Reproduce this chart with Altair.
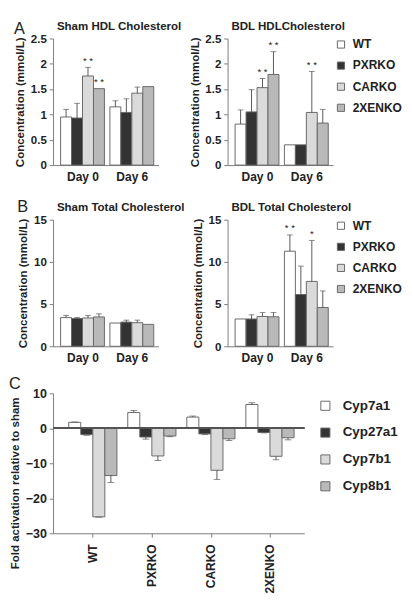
import altair as alt
import pandas as pd

FONT = "Liberation Sans"
TXT = "#222222"
AX = "#7a7a7a"

strains = ["WT", "PXRKO", "CARKO", "2XENKO"]
days = ["Day 0", "Day 6"]
genes = ["Cyp7a1", "Cyp27a1", "Cyp7b1", "Cyp8b1"]
fills = ["#ffffff", "#333333", "#dadada", "#b9b9b9"]

# Panel A (mmol/L): Day 0 (WT, PXRKO, CARKO, 2XENKO), then Day 6
sham_hdl = [0.95, 0.93, 1.76, 1.51, 1.15, 1.04, 1.42, 1.55]
sham_hdl_err = [1.10, 1.22, 1.93, None, 1.27, 1.31, 1.54, None]
sham_hdl_sig = ["", "", "* *", "* *", "", "", "", ""]

bdl_hdl = [0.81, 1.05, 1.53, 1.79, 0.40, 0.40, 1.04, 0.83]
bdl_hdl_err = [1.09, 1.49, 1.71, 2.24, None, None, 1.85, 1.10]
bdl_hdl_sig = ["", "", "* *", "* *", "", "", "* *", ""]

# Panel B (mmol/L)
sham_tot = [3.40, 3.29, 3.36, 3.48, 2.76, 2.87, 2.80, 2.60]
sham_tot_err = [3.66, 3.42, 3.66, 3.85, None, 3.10, 3.10, None]
sham_tot_sig = ["", "", "", "", "", "", "", ""]

bdl_tot = [3.24, 3.24, 3.54, 3.50, 11.27, 6.14, 7.69, 4.60]
bdl_tot_err = [None, 3.73, 4.00, 4.00, 13.20, 9.50, 12.55, 6.56]
bdl_tot_sig = ["", "", "", "", "* *", "", "*", ""]

# Panel C: fold activation, per strain (Cyp7a1, Cyp27a1, Cyp7b1, Cyp8b1)
fold = [1.7, -1.8, -25.3, -13.5,
        4.5, -2.5, -7.9, -2.2,
        3.2, -1.6, -12.0, -3.0,
        6.8, -1.2, -8.0, -2.7]
fold_err = [1.8, -2.0, -25.4, -15.5,
            5.1, -3.1, -9.2, -2.4,
            3.5, -1.8, -14.6, -3.5,
            7.3, -1.3, -9.0, -3.3]

A_TICKS = [0, 0.5, 1, 1.5, 2, 2.5]
B_TICKS = [0, 5, 10, 15]
C_TICKS = [-30, -20, -10, 0, 10]

# group layout in bar-width units (layout only)
GROUP_AB = len(strains) + 0.5
GROUP_C = len(genes) + 0.9


def js_list(items):
    return "[" + ",".join("'" + s + "'" for s in items) + "]"


def grouped_frame(groups, members, step, **cols):
    rows = []
    k = 0
    for gi, g in enumerate(groups):
        for mi, m in enumerate(members):
            r = {"grp": g, "member": m, "x0": gi * step + mi, "x1": gi * step + mi + 1,
                 "xc": gi * step + mi + 0.5}
            for key, arr in cols.items():
                r[key] = arr[k]
            rows.append(r)
            k += 1
    return pd.DataFrame(rows)


def conc_panel(values, errs, sigs, title, ymax, yticks, show_legend, w, h):
    df = grouped_frame(days, strains, GROUP_AB, value=values, err=errs, sig=sigs)
    centers = [gi * GROUP_AB + len(strains) / 2 for gi in range(len(days))]
    xscale = alt.Scale(domain=[-0.25, GROUP_AB + len(strains)], nice=False, zero=False)
    xaxis = alt.Axis(title=None, values=centers, ticks=False, labelPadding=6, labelFontSize=12.5,
                     labelFlush=False,
                     labelExpr=f"{js_list(days)}[round((datum.value - {len(strains) / 2}) / {GROUP_AB})]")
    yscale = alt.Scale(domain=[0, ymax], nice=False, zero=True)
    yaxis = alt.Axis(title="Concentration (mmol/L)", values=yticks, format="~g",
                     tickSize=4, labelPadding=3, titlePadding=4, labelOverlap=False)
    base = alt.Chart(df)
    legend = (alt.Legend(title=None, orient="right", offset=2, symbolType="square",
                         symbolSize=56, symbolStrokeColor="#666", symbolStrokeWidth=1,
                         labelFontSize=12.5, labelFontWeight="bold", labelColor=TXT,
                         labelFont=FONT, rowPadding=9, labelOffset=6, symbolOpacity=1)
              if show_legend else None)
    bars = base.mark_bar(stroke="#666", strokeWidth=1, orient="vertical").encode(
        x=alt.X("x0:Q", scale=xscale, axis=xaxis), x2="x1:Q",
        y=alt.Y("value:Q", scale=yscale, axis=yaxis, stack=None), y2=alt.datum(0),
        color=alt.Color("member:N", scale=alt.Scale(domain=strains, range=fills), legend=legend),
    )
    ebase = base.transform_filter("isValid(datum.err)")
    rules = ebase.mark_rule(color="#555", strokeWidth=1).encode(
        x=alt.X("xc:Q", scale=xscale, axis=xaxis),
        y=alt.Y("value:Q", scale=yscale, axis=yaxis), y2="err:Q")
    caps = ebase.mark_tick(orient="horizontal", size=6, thickness=1, color="#555").encode(
        x=alt.X("xc:Q", scale=xscale, axis=xaxis),
        y=alt.Y("err:Q", scale=yscale, axis=yaxis))
    stars = base.transform_calculate(
        top="isValid(datum.err) ? datum.err : datum.value"
    ).mark_text(baseline="bottom", dy=-2, fontSize=10, color=TXT, font=FONT).encode(
        x=alt.X("xc:Q", scale=xscale, axis=xaxis),
        y=alt.Y("top:Q", scale=yscale, axis=yaxis), text="sig:N")
    return alt.layer(bars, rules, caps, stars).properties(
        width=w, height=h,
        title=alt.TitleParams(title, anchor="start", frame="group", dx=4, offset=0,
                              fontSize=12, fontWeight="bold", color=TXT, font=FONT),
    )


PW, PH = 110, 132


def row_title(letter, off):
    return alt.TitleParams(letter, anchor="start", frame="bounds", fontSize=17,
                           fontWeight="normal", color=TXT, font=FONT, offset=off)


rowA = alt.hconcat(
    conc_panel(sham_hdl, sham_hdl_err, sham_hdl_sig, "Sham HDL Cholesterol", 2.5, A_TICKS, False, PW, PH),
    conc_panel(bdl_hdl, bdl_hdl_err, bdl_hdl_sig, "BDL HDLCholesterol", 2.5, A_TICKS, True, PW, PH),
    spacing=72, bounds="flush",
).resolve_scale(color="independent").properties(title=row_title("A", -18))

rowB = alt.hconcat(
    conc_panel(sham_tot, sham_tot_err, sham_tot_sig, "Sham Total  Cholesterol", 15, B_TICKS, False, PW, PH),
    conc_panel(bdl_tot, bdl_tot_err, bdl_tot_sig, "BDL Total Cholesterol", 15, B_TICKS, True, PW, PH),
    spacing=72, bounds="flush",
).resolve_scale(color="independent").properties(title=row_title("B", -15))

CH = 146
dfc = grouped_frame(strains, genes, GROUP_C, value=fold, err=fold_err)
c_centers = [gi * GROUP_C + len(genes) / 2 for gi in range(len(strains))]
cxscale = alt.Scale(domain=[-0.9, (len(strains) - 1) * GROUP_C + len(genes) + 0.45],
                    nice=False, zero=False)
cxaxis = alt.Axis(title=None, values=c_centers, ticks=True, tickSize=4, labelAngle=-90,
                  labelAlign="right", labelBaseline="middle", labelPadding=7,
                  labelFontSize=12.5, labelFlush=False,
                  labelExpr=f"{js_list(strains)}[round((datum.value - {len(genes) / 2}) / {GROUP_C})]")
cscale = alt.Scale(domain=[-30, 10], nice=False, zero=True)
caxis = alt.Axis(title="Fold activation relative to sham", values=C_TICKS, tickSize=4,
                 labelPadding=3, titlePadding=4, labelFontSize=13, labelOverlap=False,
                 titleY=CH * 0.64)
cbase = alt.Chart(dfc)
cbars = cbase.mark_bar(stroke="#666", strokeWidth=1, orient="vertical").encode(
    x=alt.X("x0:Q", scale=cxscale, axis=cxaxis), x2="x1:Q",
    y=alt.Y("value:Q", scale=cscale, axis=caxis, stack=None), y2=alt.datum(0),
    color=alt.Color("member:N", scale=alt.Scale(domain=genes, range=fills),
                    legend=alt.Legend(title=None, orient="right", offset=9, padding=6,
                                      symbolType="square", symbolSize=90,
                                      symbolStrokeColor="#666", symbolStrokeWidth=1,
                                      labelFontSize=14, labelFontWeight="bold",
                                      labelColor=TXT, labelFont=FONT, rowPadding=14,
                                      labelOffset=11, symbolOpacity=1)),
)
czero = cbase.mark_rule(color="#555", strokeWidth=1).encode(
    y=alt.YDatum(0, scale=cscale, axis=caxis))
ce = cbase.transform_filter("isValid(datum.err)")
crules = ce.mark_rule(color="#555", strokeWidth=1).encode(
    x=alt.X("xc:Q", scale=cxscale, axis=cxaxis),
    y=alt.Y("value:Q", scale=cscale, axis=caxis), y2="err:Q")
ccaps = ce.mark_tick(orient="horizontal", size=7, thickness=1, color="#555").encode(
    x=alt.X("xc:Q", scale=cxscale, axis=cxaxis),
    y=alt.Y("err:Q", scale=cscale, axis=caxis))

rowC = alt.layer(cbars, crules, ccaps, czero).properties(
    width=262, height=CH,
    title=row_title("C", -6),
)

top_rows = alt.vconcat(rowA, rowB, spacing=16).resolve_scale(color="independent")
chart = alt.vconcat(top_rows, rowC, spacing=12).resolve_scale(color="independent").configure(
    font=FONT,
).configure_view(stroke=None).configure_axis(
    grid=False, domainColor=AX, tickColor=AX, labelColor=TXT, titleColor=TXT,
    labelFont=FONT, titleFont=FONT, labelFontWeight="bold", titleFontWeight="bold",
    labelFontSize=12, titleFontSize=12,
).properties(padding=0)

chart.save("out.html", embed_options={"renderer": "svg", "actions": False})
